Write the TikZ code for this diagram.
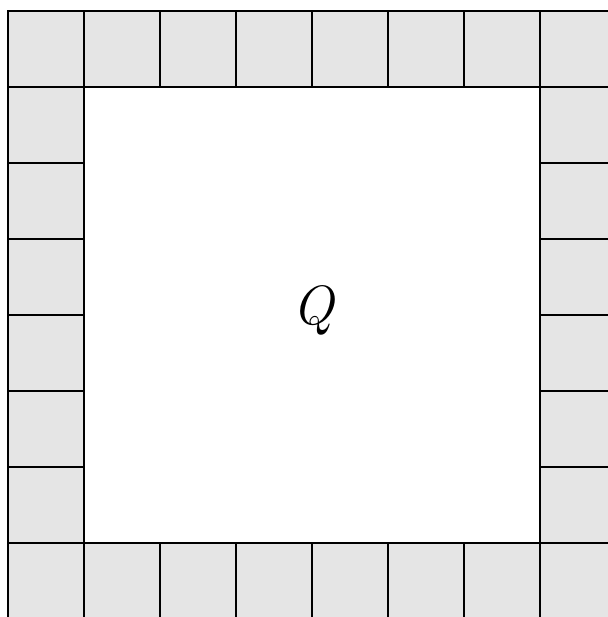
\documentclass[tikz,border=0pt]{standalone}
\begin{document}
\begin{tikzpicture}[
  cell/.style={draw, rectangle, fill=gray!20, line width=1pt,
               minimum size=1cm, inner sep=0pt}]
  \useasboundingbox (-0.105,0.145) rectangle (7.885,-7.975);

  % top and bottom rows
  \foreach \i in {0,...,7} {
    \node (top-\i) [cell] at (\i+0.5,-0.5) {};
    \node (bot-\i) [cell] at (\i+0.5,-7.5) {};
  }
  % left and right columns
  \foreach \j in {1,...,6} {
    \node (left-\j)  [cell] at (0.5,-\j-0.5) {};
    \node (right-\j) [cell] at (7.5,-\j-0.5) {};
  }

  \node (q) at (4.05,-3.95) {\fontsize{22}{26}\selectfont $\mathbf{\mathit{Q}}$};
\end{tikzpicture}
\end{document}
